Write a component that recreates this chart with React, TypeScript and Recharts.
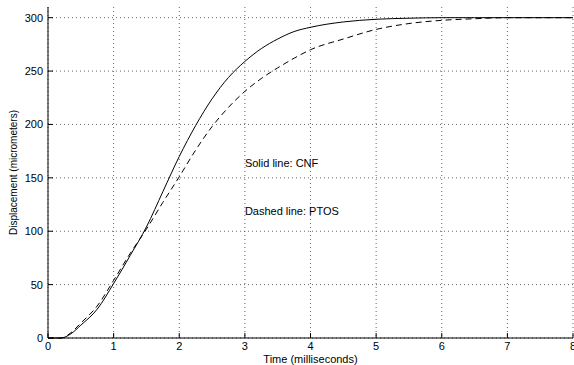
import React from "react"
import {
  LineChart,
  Line,
  XAxis,
  YAxis,
  CartesianGrid,
  ReferenceDot,
} from "recharts"

const times = [0, 0.2, 0.35, 0.5, 0.75, 1, 1.25, 1.5, 1.75, 2, 2.25, 2.5, 2.75, 3, 3.25, 3.5, 3.75, 4, 4.5, 5, 5.5, 6, 6.5, 7, 7.5, 8]
const cnf = [0, 0, 4, 12, 27, 51, 77, 104, 137, 170, 199, 224, 244, 259, 271, 280, 287, 291, 296, 298.5, 299.5, 300, 300, 300, 300, 300]
const ptos = [0, 0, 5, 14, 30, 54, 79, 102, 127, 151, 176, 198, 216, 231, 243, 253, 262, 270, 280, 289, 294.5, 297.5, 299, 300, 300, 300]

const xTicks = [0, 1, 2, 3, 4, 5, 6, 7, 8]
const yTicks = [0, 50, 100, 150, 200, 250, 300]

const data = times.map((t, i) => ({ t, cnf: cnf[i], ptos: ptos[i] }))

const font = '"Liberation Sans", Arial, sans-serif'
const tickStyle = { fontSize: 11, fill: "#000", fontFamily: font }
const blank = () => ""

const App = () => {
  return (
    <div style={{ position: "absolute", left: 0, top: 0, background: "#fff" }}>
      <LineChart
        width={574}
        height={365}
        data={data}
        margin={{ top: 7, right: 1, bottom: 0, left: 8 }}
      >
        <CartesianGrid
          stroke="#666"
          strokeDasharray="1 3"
          horizontalValues={yTicks}
          verticalValues={xTicks}
        />
        <XAxis
          dataKey="t"
          type="number"
          domain={[0, 8]}
          ticks={xTicks}
          height={27}
          stroke="#000"
          tickSize={-5}
          tickMargin={9}
          tick={tickStyle}
          interval={0}
          label={{
            value: "Time (milliseconds)",
            position: "insideBottom",
            offset: 2,
            style: { fontSize: 11, fill: "#000", fontFamily: font },
          }}
        />
        <XAxis
          xAxisId="top"
          orientation="top"
          dataKey="t"
          type="number"
          domain={[0, 8]}
          ticks={xTicks}
          height={0}
          stroke="#000"
          tickSize={-5}
          tickFormatter={blank}
        />
        <YAxis
          type="number"
          domain={[0, 310]}
          ticks={yTicks}
          width={40}
          stroke="#000"
          tickSize={-5}
          tickMargin={10}
          tick={tickStyle}
          interval={0}
          label={{
            value: "Displacement (micrometers)",
            angle: -90,
            position: "center",
            dx: -15,
            style: { fontSize: 10, fill: "#000", fontFamily: font },
          }}
        />
        <YAxis
          yAxisId="right"
          orientation="right"
          type="number"
          domain={[0, 310]}
          ticks={yTicks}
          width={0}
          stroke="#000"
          tickSize={-5}
          tickFormatter={blank}
        />
        <Line
          type="monotone"
          dataKey="cnf"
          stroke="#000"
          strokeWidth={1}
          dot={false}
          isAnimationActive={false}
        />
        <Line
          type="monotone"
          dataKey="ptos"
          stroke="#000"
          strokeWidth={1}
          strokeDasharray="6 4"
          dot={false}
          isAnimationActive={false}
        />
        <ReferenceDot
          x={3}
          y={164}
          r={0}
          stroke="none"
          label={{
            value: "Solid line: CNF",
            position: "right",
            offset: 0,
            style: { fontSize: 11, fill: "#000", fontFamily: font },
          }}
        />
        <ReferenceDot
          x={3}
          y={119}
          r={0}
          stroke="none"
          label={{
            value: "Dashed line: PTOS",
            position: "right",
            offset: 0,
            style: { fontSize: 11, fill: "#000", fontFamily: font },
          }}
        />
      </LineChart>
    </div>
  )
}

export default App
